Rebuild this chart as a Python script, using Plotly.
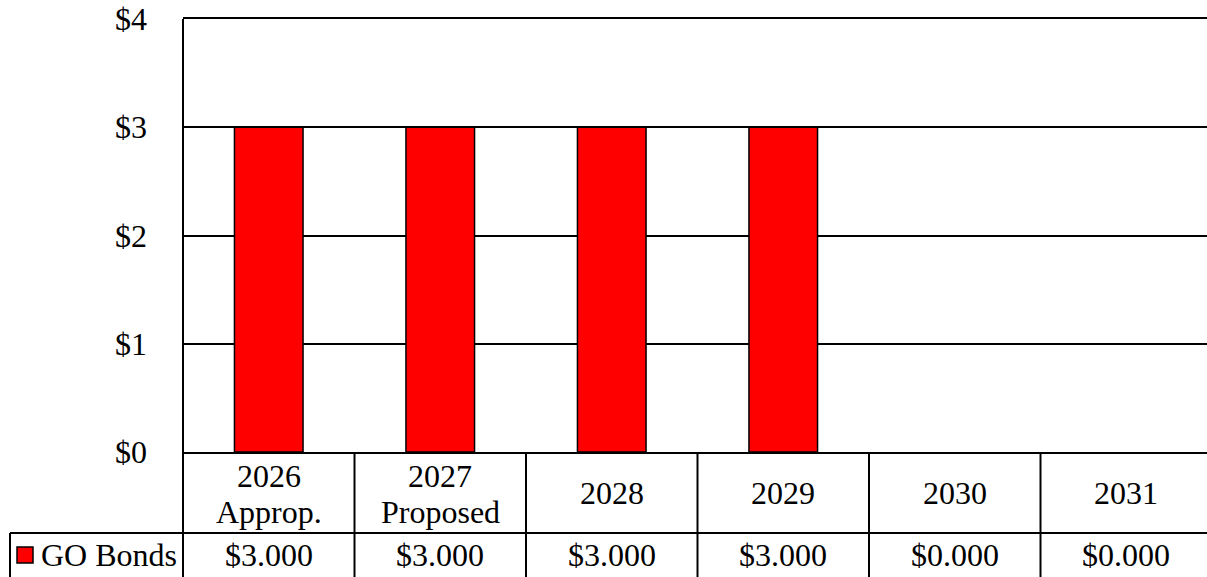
import plotly.graph_objects as go

categories = ["2026<br>Approp.", "2027<br>Proposed", "2028", "2029", "2030", "2031"]
series_name = "GO Bonds"
go_bonds = [3.0, 3.0, 3.0, 3.0, 0.0, 0.0]
y_ticks = [0, 1, 2, 3, 4]
y_tick_labels = ["$0", "$1", "$2", "$3", "$4"]

W, H = 1207, 577
PLOT_L, PLOT_T, PLOT_B = 183, 19, 452
L, T, B, R = PLOT_L, PLOT_T, H - PLOT_B, 0
plot_h = PLOT_B - PLOT_T
plot_w = W - PLOT_L
COL_W = 171.5

FONT = dict(family="Liberation Serif, Times New Roman, serif", size=32, color="black")
RED = "#FF0000"

def py(px):
    """pixel row -> paper y"""
    return (PLOT_B - px) / plot_h

def pxx(px):
    """pixel column -> paper x"""
    return (px - PLOT_L) / plot_w

n = len(categories)
xs = list(range(n))

fig = go.Figure()
fig.add_trace(go.Bar(
    x=xs, y=go_bonds, width=0.40, name=series_name,
    marker=dict(color=RED, line=dict(color="black", width=[1.5 if v > 0 else 0 for v in go_bonds])),
    showlegend=False, hoverinfo="skip",
))

shapes = []
# left axis line extending through table
shapes.append(dict(type="line", xref="paper", yref="paper", x0=0, x1=0, y0=1, y1=py(590),
                   line=dict(color="black", width=2)))
# vertical column separators
for i in range(n - 1):
    shapes.append(dict(type="line", xref="x", yref="paper", x0=i + 0.5, x1=i + 0.5,
                       y0=0, y1=py(590), line=dict(color="black", width=2)))
# horizontal line between header and data rows
shapes.append(dict(type="line", xref="paper", yref="paper", x0=pxx(10), x1=1.0,
                   y0=py(533), y1=py(533), line=dict(color="black", width=2)))
# legend cell left border
shapes.append(dict(type="line", xref="paper", yref="paper", x0=pxx(10), x1=pxx(10),
                   y0=py(533), y1=py(590), line=dict(color="black", width=2)))
# legend key
shapes.append(dict(type="rect", xref="paper", yref="paper", x0=pxx(17), x1=pxx(33),
                   y0=py(563), y1=py(547), fillcolor=RED, line=dict(color="black", width=1.5)))

annotations = []
for i, c in enumerate(categories):
    lines = c.split("<br>")
    if len(lines) == 2:
        for ln, yc in zip(lines, [476, 512]):
            annotations.append(dict(x=i, y=py(yc), xref="x", yref="paper", text=ln,
                                    showarrow=False, font=FONT, xanchor="center", yanchor="middle"))
    else:
        annotations.append(dict(x=i, y=py(493), xref="x", yref="paper", text=lines[0],
                                showarrow=False, font=FONT, xanchor="center", yanchor="middle"))
    annotations.append(dict(x=i, y=py(555), xref="x", yref="paper", text=f"${go_bonds[i]:.3f}",
                            showarrow=False, font=FONT, xanchor="center", yanchor="middle"))
annotations.append(dict(x=pxx(39), y=py(555), xref="paper", yref="paper", text=series_name,
                        showarrow=False, font=FONT, xanchor="left", yanchor="middle"))

fig.update_layout(
    width=W, height=H,
    margin=dict(l=L, r=R, t=T, b=B, pad=0, autoexpand=False),
    paper_bgcolor="white", plot_bgcolor="white",
    font=FONT,
    xaxis=dict(range=[-0.5, -0.5 + plot_w / COL_W], showticklabels=False, showgrid=False,
               zeroline=False, showline=True, mirror=True, linecolor="black", linewidth=2,
               fixedrange=True, automargin=False),
    yaxis=dict(range=[0, 4.0005], tickvals=y_ticks, ticktext=y_tick_labels, showgrid=True,
               gridcolor="black", gridwidth=2, zeroline=False, showline=False,
               ticks="", ticklabelstandoff=35, ticklabeloverflow="allow", tickfont=FONT,
               fixedrange=True, automargin=False),
    shapes=shapes, annotations=annotations,
    bargap=0.6,
    hovermode=False,
)

fig.write_html(
    "out.html",
    config={"displayModeBar": False, "staticPlot": True},
    post_script="document.documentElement.style.margin='0';document.body.style.margin='0';"
                "document.body.style.overflow='hidden';",
)
